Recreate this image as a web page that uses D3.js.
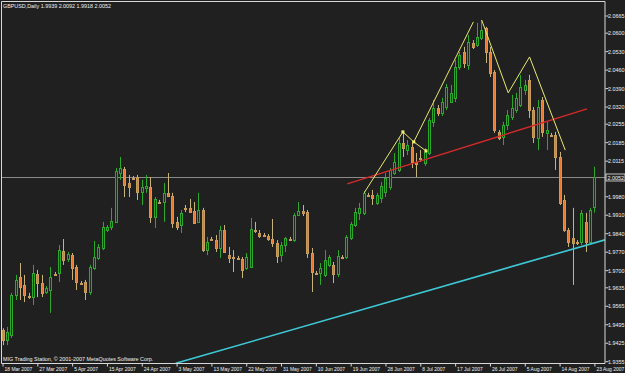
<!DOCTYPE html>
<html>
<head>
<meta charset="utf-8">
<script src="https://cdn.jsdelivr.net/npm/d3@7"></script>
<style>
body { margin: 0; background: #202020; }
svg { display: block; }
text { font-family: "Liberation Sans", Arial, sans-serif; fill: #f0f0f0; }
</style>
</head>
<body>
<script>
//daily GBPUSD bars, one per trading day (Sun-Fri), 18 Mar 2007 .. 23 Aug 2007
var opens = [
    1.9473, 1.9435, 1.9454, 1.9606, 1.9674, 1.9644, 1.9602, 1.9598, 1.9686, 1.9651,
    1.9617, 1.9625, 1.9686, 1.9689, 1.9773, 1.9742, 1.9757, 1.9712, 1.9651, 1.9655,
    1.9617, 1.9708, 1.9746, 1.9784, 1.9852, 1.9864, 1.9883, 2.0068, 2.0083, 2.0030,
    2.0049, 2.0053, 1.9996, 2.0011, 2.0015, 1.9902, 1.9958, 1.9958, 1.9993, 1.9981,
    1.9883, 1.9871, 1.9936, 1.9936, 1.9924, 1.9883, 1.9928, 1.9776, 1.9818, 1.9814,
    1.9784, 1.9852, 1.9757, 1.9750, 1.9746, 1.9742, 1.9708, 1.9712, 1.9852, 1.9841,
    1.9833, 1.9830, 1.9818, 1.9803, 1.9757, 1.9795, 1.9818, 1.9814, 1.9909, 1.9924,
    1.9920, 1.9765, 1.9689, 1.9689, 1.9682, 1.9720, 1.9720, 1.9686, 1.9750, 1.9750,
    1.9822, 1.9871, 1.9917, 1.9917, 1.9985, 1.9985, 1.9955, 1.9974, 1.9996, 2.0015,
    2.0068, 2.0080, 2.0182, 2.0155, 2.0167, 2.0110, 2.0125, 2.0106, 2.0144, 2.0262,
    2.0315, 2.0296, 2.0318, 2.0337, 2.0353, 2.0470, 2.0527, 2.0478, 2.0561, 2.0553,
    2.0580, 2.0618, 2.0527, 2.0451, 2.0224, 2.0205, 2.0250, 2.0280, 2.0307, 2.0326,
    2.0383, 2.0421, 2.0307, 2.0201, 2.0345, 2.0220, 2.0212, 2.0212, 2.0129, 1.9966,
    1.9852, 1.9822, 1.9807, 1.9807, 1.9883, 1.9807, 1.9939
];
var highs = [
    1.9480, 1.9485, 1.9614, 1.9682, 1.9727, 1.9682, 1.9614, 1.9720, 1.9701, 1.9682,
    1.9640, 1.9712, 1.9693, 1.9795, 1.9818, 1.9769, 1.9765, 1.9720, 1.9659, 1.9663,
    1.9720, 1.9811, 1.9799, 1.9883, 1.9871, 1.9936, 2.0087, 2.0129, 2.0091, 2.0061,
    2.0057, 2.0061, 2.0042, 2.0061, 2.0053, 1.9977, 1.9966, 2.0030, 2.0068, 1.9993,
    1.9902, 1.9928, 1.9947, 1.9970, 1.9958, 1.9993, 1.9936, 1.9826, 1.9826, 1.9833,
    1.9868, 1.9871, 1.9788, 1.9776, 1.9754, 1.9750, 1.9765, 1.9898, 1.9883, 1.9852,
    1.9841, 1.9837, 1.9894, 1.9814, 1.9807, 1.9826, 1.9826, 1.9917, 1.9958, 1.9947,
    1.9928, 1.9784, 1.9697, 1.9727, 1.9776, 1.9757, 1.9731, 1.9776, 1.9757, 1.9833,
    1.9883, 1.9936, 1.9955, 2.0000, 1.9993, 2.0004, 1.9993, 2.0034, 2.0068, 2.0087,
    2.0144, 2.0201, 2.0220, 2.0193, 2.0186, 2.0144, 2.0155, 2.0163, 2.0277, 2.0345,
    2.0326, 2.0353, 2.0406, 2.0402, 2.0497, 2.0527, 2.0546, 2.0591, 2.0572, 2.0637,
    2.0648, 2.0622, 2.0546, 2.0459, 2.0231, 2.0262, 2.0307, 2.0364, 2.0372, 2.0440,
    2.0421, 2.0440, 2.0318, 2.0345, 2.0356, 2.0262, 2.0220, 2.0224, 2.0148, 1.9985,
    1.9860, 1.9936, 1.9814, 1.9928, 1.9917, 1.9936, 2.0092
];
var lows = [
    1.9416, 1.9416, 1.9443, 1.9587, 1.9587, 1.9579, 1.9591, 1.9568, 1.9598, 1.9598,
    1.9610, 1.9538, 1.9678, 1.9655, 1.9720, 1.9731, 1.9663, 1.9625, 1.9644, 1.9587,
    1.9606, 1.9701, 1.9739, 1.9776, 1.9845, 1.9852, 1.9879, 2.0042, 1.9977, 1.9977,
    2.0042, 1.9966, 1.9947, 1.9993, 1.9879, 1.9860, 1.9951, 1.9883, 1.9977, 1.9860,
    1.9852, 1.9841, 1.9920, 1.9917, 1.9875, 1.9879, 1.9769, 1.9757, 1.9811, 1.9769,
    1.9746, 1.9765, 1.9727, 1.9693, 1.9739, 1.9670, 1.9701, 1.9708, 1.9841, 1.9822,
    1.9826, 1.9811, 1.9788, 1.9727, 1.9731, 1.9769, 1.9811, 1.9807, 1.9905, 1.9905,
    1.9746, 1.9617, 1.9682, 1.9644, 1.9674, 1.9712, 1.9651, 1.9674, 1.9742, 1.9742,
    1.9814, 1.9864, 1.9890, 1.9909, 1.9977, 1.9947, 1.9947, 1.9955, 1.9977, 2.0004,
    2.0061, 2.0072, 2.0129, 2.0136, 2.0087, 2.0053, 2.0110, 2.0095, 2.0136, 2.0243,
    2.0284, 2.0284, 2.0307, 2.0334, 2.0337, 2.0459, 2.0466, 2.0459, 2.0538, 2.0546,
    2.0572, 2.0485, 2.0432, 2.0220, 2.0193, 2.0174, 2.0231, 2.0269, 2.0296, 2.0318,
    2.0364, 2.0277, 2.0182, 2.0155, 2.0205, 2.0155, 2.0205, 2.0080, 1.9947, 1.9845,
    1.9788, 1.9644, 1.9795, 1.9795, 1.9769, 1.9803, 1.9918
];
var closes = [
    1.9435, 1.9466, 1.9606, 1.9663, 1.9636, 1.9606, 1.9598, 1.9689, 1.9651, 1.9614,
    1.9632, 1.9674, 1.9682, 1.9776, 1.9739, 1.9761, 1.9708, 1.9655, 1.9648, 1.9617,
    1.9712, 1.9750, 1.9788, 1.9864, 1.9864, 1.9886, 2.0076, 2.0087, 2.0023, 2.0015,
    2.0046, 1.9996, 2.0015, 2.0019, 1.9902, 1.9970, 1.9955, 1.9993, 1.9981, 1.9879,
    1.9864, 1.9917, 1.9932, 1.9920, 1.9879, 1.9928, 1.9776, 1.9807, 1.9814, 1.9784,
    1.9852, 1.9769, 1.9746, 1.9746, 1.9742, 1.9701, 1.9750, 1.9856, 1.9848, 1.9830,
    1.9830, 1.9818, 1.9803, 1.9754, 1.9795, 1.9822, 1.9814, 1.9909, 1.9924, 1.9917,
    1.9765, 1.9693, 1.9686, 1.9708, 1.9739, 1.9750, 1.9686, 1.9754, 1.9746, 1.9826,
    1.9875, 1.9920, 1.9936, 1.9993, 1.9981, 1.9974, 1.9985, 2.0019, 2.0049, 2.0080,
    2.0110, 2.0182, 2.0163, 2.0174, 2.0110, 2.0102, 2.0121, 2.0148, 2.0269, 2.0315,
    2.0296, 2.0337, 2.0394, 2.0371, 2.0470, 2.0516, 2.0485, 2.0565, 2.0546, 2.0584,
    2.0610, 2.0527, 2.0447, 2.0231, 2.0201, 2.0250, 2.0288, 2.0315, 2.0353, 2.0394,
    2.0402, 2.0307, 2.0205, 2.0318, 2.0224, 2.0231, 2.0208, 2.0129, 1.9955, 1.9852,
    1.9807, 1.9803, 1.9803, 1.9917, 1.9807, 1.9928, 2.0052
];

//time axis labels and the bar they sit on
var timeLabels = ["18 Mar 2007", "27 Mar 2007", "5 Apr 2007", "15 Apr 2007", "24 Apr 2007",
    "3 May 2007", "13 May 2007", "22 May 2007", "31 May 2007", "10 Jun 2007", "19 Jun 2007",
    "28 Jun 2007", "8 Jul 2007", "17 Jul 2007", "26 Jul 2007", "5 Aug 2007", "14 Aug 2007",
    "23 Aug 2007"];
var timeLabelBars = [0, 8, 16, 24, 32, 40, 48, 56, 64, 72, 80, 88, 96, 104, 112, 120, 128, 136];

//price axis labels
var priceLabels = [2.0665, 2.0600, 2.0530, 2.0460, 2.0390, 2.0320, 2.0255, 2.0185, 2.0115,
    1.9980, 1.9910, 1.9840, 1.9770, 1.9700, 1.9635, 1.9565, 1.9495, 1.9425, 1.9355];
var bidPrice = 2.0052;

//objects drawn on the chart: [bar, price]
var yellowLineA = [[83.1, 1.9993], [92.0, 2.0224], [94.5, 2.0186], [97.3, 2.0152]];
var yellowLineB = [[94.5, 2.0186], [108.2, 2.0641]];
var yellowLineC = [[110.1, 2.0648], [116.2, 2.0372], [121.1, 2.0508], [129.3, 2.0155]];
var redLine = [[79.2, 2.0027], [134.3, 2.0311]];
var cyanRay = [[39.8, 1.9347], [128.1, 1.9766]];

var symbol = "GBPUSD,Daily";
var copyright = "MIG Trading Station, \u00a9 2001-2007 MetaQuotes Software Corp.";

var width = 625;
var height = 373;
var plotRight = 605;
var plotBottom = 363.5;
var textScale = 0.87;
var timeScale = 0.8;
var fontSize = "6.2px";

var svg = d3.select("body").append("svg")
    .attr("width", width)
    .attr("height", height);

svg.append("rect")
    .attr("width", width)
    .attr("height", height)
    .attr("fill", "#202020");

var x = d3.scaleLinear().domain([0, 136]).range([2.5, 594.4]);
var y = d3.scaleLinear().domain([1.9355, 2.0665]).range([361.2, 15.5]);

svg.append("clipPath").attr("id", "plotClip")
    .append("rect")
    .attr("x", 1.5).attr("y", 1.5)
    .attr("width", plotRight - 1.5).attr("height", plotBottom - 1.5);

var chart = svg.append("g").attr("clip-path", "url(#plotClip)");

//bid line
chart.append("line")
    .attr("x1", 0).attr("x2", plotRight)
    .attr("y1", Math.round(y(bidPrice)) + 0.5).attr("y2", Math.round(y(bidPrice)) + 0.5)
    .attr("stroke", "#8a8a8a");

//candles
var bars = opens.map(function(o, i){
    return {i: i, open: o, high: highs[i], low: lows[i], close: closes[i]};
});

var candles = chart.selectAll(".candle")
    .data(bars)
    .enter()
    .append("g")
    .attr("class", "candle");

function cx(d){ return Math.round(x(d.i)) + 0.5; }
function isBull(d){ return d.close >= d.open; }

candles.append("line")
    .attr("x1", cx).attr("x2", cx)
    .attr("y1", function(d){ return y(d.high); })
    .attr("y2", function(d){ return y(d.low); })
    .attr("stroke", function(d){ return isBull(d) ? "#2aa82a" : "#c8b47a"; });

candles.append("rect")
    .attr("x", function(d){ return cx(d) - 1; })
    .attr("y", function(d){ return Math.round(y(Math.max(d.open, d.close))) + 0.5; })
    .attr("width", 2)
    .attr("height", function(d){
        return Math.max(0.01, Math.round(Math.abs(y(d.open) - y(d.close))));
    })
    .attr("fill", function(d){ return isBull(d) ? "#1a2c1a" : "#e8782c"; })
    .attr("stroke", function(d){ return isBull(d) ? "#2aa82a" : "#c89c5c"; });

//trend lines
var line = d3.line()
    .x(function(p){ return x(p[0]); })
    .y(function(p){ return y(p[1]); });

function drawLine(points, color, w){
    chart.append("path")
        .attr("d", line(points))
        .attr("fill", "none")
        .attr("stroke", color)
        .attr("stroke-width", w);
}

//extend the cyan ray to the right edge
var slope = (cyanRay[1][1] - cyanRay[0][1]) / (cyanRay[1][0] - cyanRay[0][0]);
var edgeBar = x.invert(plotRight);
drawLine([cyanRay[0], [edgeBar, cyanRay[0][1] + slope * (edgeBar - cyanRay[0][0])]], "#3ec8d6", 1.6);
drawLine(redLine, "#d42a2a", 1.4);
drawLine(yellowLineA, "#eaea6a", 1);
drawLine(yellowLineB, "#eaea6a", 1);
drawLine(yellowLineC, "#eaea6a", 1);

//selected object handles
chart.selectAll(".handle")
    .data(yellowLineA.slice(1))
    .enter()
    .append("rect")
    .attr("class", "handle")
    .attr("x", function(p){ return x(p[0]) - 1.5; })
    .attr("y", function(p){ return y(p[1]) - 1.5; })
    .attr("width", 3).attr("height", 3)
    .attr("fill", "#f0f070");

//frame
svg.append("path")
    .attr("d", "M" + plotRight + "," + plotBottom + "V1.5H1.5V" + plotBottom + "H" + plotRight)
    .attr("fill", "none")
    .attr("stroke", "#d8d8d8");

//price axis
var priceAxis = d3.axisRight(y)
    .tickValues(priceLabels)
    .tickFormat(d3.format(".4f"))
    .tickSize(3)
    .tickSizeOuter(0);

var py = svg.append("g")
    .attr("transform", "translate(" + (plotRight + 0.5) + ",0)")
    .call(priceAxis);
py.select(".domain").remove();
py.selectAll("line").attr("stroke", "#d8d8d8");
py.selectAll("text")
    .attr("x", 2.5 / textScale)
    .attr("transform", "scale(" + textScale + ",1)")
    .style("font-size", fontSize)
    .attr("fill", "#f0f0f0");

//bid price label
var bidY = Math.round(y(bidPrice)) + 0.5;
svg.append("rect")
    .attr("x", plotRight + 1).attr("y", bidY - 3.5)
    .attr("width", 19).attr("height", 7)
    .attr("fill", "#262626")
    .attr("stroke", "#e8e8e8")
    .attr("stroke-width", 0.8);
svg.append("text")
    .attr("transform", "translate(" + (plotRight + 2.5) + "," + (bidY + 2.2) + ") scale(" + textScale + ",1)")
    .style("font-size", fontSize)
    .text(d3.format(".4f")(bidPrice));

//time axis
var timeAxis = d3.axisBottom(x)
    .tickValues(timeLabelBars)
    .tickFormat(function(d, i){ return timeLabels[i]; })
    .tickSize(3)
    .tickSizeOuter(0);

var tx = svg.append("g")
    .attr("transform", "translate(0," + plotBottom + ")")
    .call(timeAxis);
tx.select(".domain").remove();
tx.selectAll("line").attr("stroke", "#d8d8d8");
tx.selectAll("text")
    .attr("text-anchor", "start")
    .attr("x", 1.5 / timeScale)
    .attr("y", 3)
    .attr("transform", "scale(" + timeScale + ",1)")
    .style("font-size", fontSize)
    .attr("fill", "#f0f0f0");

//header and copyright
var last = bars[bars.length - 1];
var fmt = d3.format(".4f");
svg.append("text")
    .attr("transform", "translate(3,8) scale(" + textScale + ",1)")
    .style("font-size", fontSize)
    .text(symbol + "  " + fmt(last.open) + " " + fmt(last.high) + " " + fmt(last.low) + " " + fmt(last.close));

svg.append("text")
    .attr("transform", "translate(3,361) scale(" + textScale + ",1)")
    .style("font-size", fontSize)
    .text(copyright);
</script>
</body>
</html>
